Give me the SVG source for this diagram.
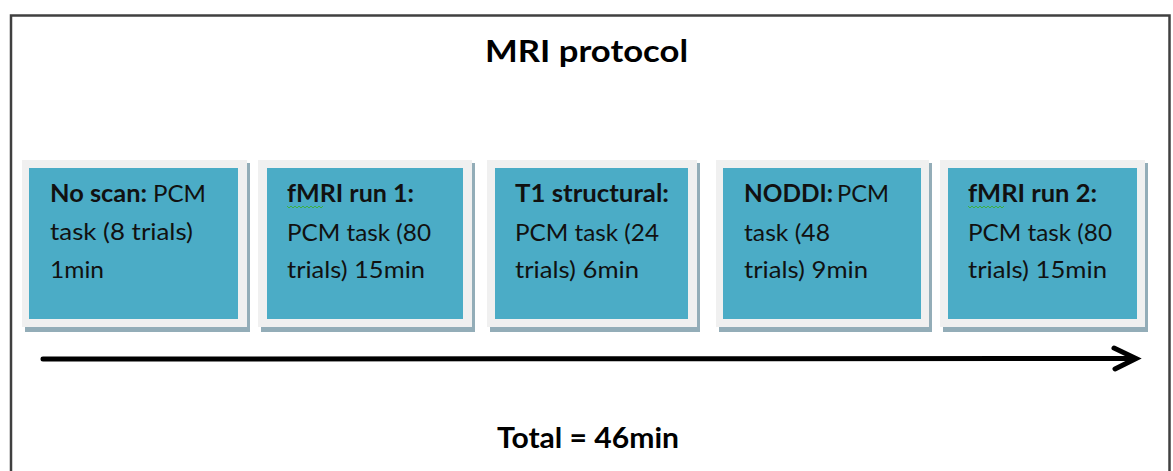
<svg xmlns="http://www.w3.org/2000/svg" width="1173" height="471" viewBox="0 0 1173 471">
<defs>
<style>
.frame{fill:#f0f0f0}
.shadow{fill:#93adb8}
.inner{fill:#4bacc6}
.t{font-family:Lato,"Open Sans","Liberation Sans",sans-serif;font-size:24px;fill:#111}
.b{font-weight:bold}
.h{font-family:Lato,"Open Sans","Liberation Sans",sans-serif;font-weight:bold;fill:#000}
.sq{fill:none;stroke:#3cb043;stroke-width:1}
</style>
</defs>
<rect width="1173" height="471" fill="#ffffff"/>
<rect x="11" y="15.5" width="1158.5" height="470" fill="none" stroke="#404040" stroke-width="2.5"/>
<text class="h" x="485" y="62" font-size="30" textLength="203" lengthAdjust="spacingAndGlyphs">MRI protocol</text>

<g id="node-noscan">
<rect class="shadow" x="25" y="163" width="225" height="169"/>
<rect class="frame" x="22" y="160" width="225" height="167"/>
<rect class="inner" x="29" y="168" width="209" height="151"/>
<text class="t b" x="50" y="202" textLength="97" lengthAdjust="spacingAndGlyphs">No scan:</text>
<text class="t" x="153" y="202" textLength="53" lengthAdjust="spacingAndGlyphs">PCM</text>
<text class="t" x="50" y="240" textLength="143" lengthAdjust="spacingAndGlyphs">task (8 trials)</text>
<text class="t" x="50" y="278" textLength="54" lengthAdjust="spacingAndGlyphs">1min</text>
</g>

<g id="node-fmri1">
<rect class="shadow" x="261" y="163" width="214" height="169"/>
<rect class="frame" x="258" y="160" width="214" height="167"/>
<rect class="inner" x="267" y="168" width="196" height="151"/>
<text class="t b" x="287" y="202" textLength="127" lengthAdjust="spacingAndGlyphs">fMRI run 1:</text>
<path class="sq" d="M287 206 l2 2 l2 -2 l2 2 l2 -2 l2 2 l2 -2 l2 2 l2 -2 l2 2 l2 -2 l2 2 l2 -2 l2 2 l2 -2 l2 2 l2 -2 l2 2 l2 -2"/>
<text class="t" x="287" y="241" textLength="144" lengthAdjust="spacingAndGlyphs">PCM task (80</text>
<text class="t" x="287" y="278" textLength="138" lengthAdjust="spacingAndGlyphs">trials) 15min</text>
</g>

<g id="node-t1">
<rect class="shadow" x="490" y="163" width="210" height="169"/>
<rect class="frame" x="487" y="160" width="210" height="167"/>
<rect class="inner" x="495" y="168" width="193" height="151"/>
<text class="t b" x="515" y="202" textLength="154" lengthAdjust="spacingAndGlyphs">T1 structural:</text>
<text class="t" x="515" y="241" textLength="144" lengthAdjust="spacingAndGlyphs">PCM task (24</text>
<text class="t" x="515" y="278" textLength="124" lengthAdjust="spacingAndGlyphs">trials) 6min</text>
</g>

<g id="node-noddi">
<rect class="shadow" x="719" y="163" width="213" height="169"/>
<rect class="frame" x="716" y="160" width="213" height="167"/>
<rect class="inner" x="723" y="168" width="198" height="151"/>
<text class="t b" x="744" y="202" textLength="89" lengthAdjust="spacingAndGlyphs">NODDI:</text>
<text class="t" x="837" y="202" textLength="52" lengthAdjust="spacingAndGlyphs">PCM</text>
<text class="t" x="744" y="241" textLength="86" lengthAdjust="spacingAndGlyphs">task (48</text>
<text class="t" x="744" y="278" textLength="124" lengthAdjust="spacingAndGlyphs">trials) 9min</text>
</g>

<g id="node-fmri2">
<rect class="shadow" x="943" y="163" width="205" height="169"/>
<rect class="frame" x="940" y="160" width="205" height="167"/>
<rect class="inner" x="948" y="168" width="189" height="151"/>
<text class="t b" x="968" y="202" textLength="129" lengthAdjust="spacingAndGlyphs">fMRI run 2:</text>
<path class="sq" d="M968 206 l2 2 l2 -2 l2 2 l2 -2 l2 2 l2 -2 l2 2 l2 -2 l2 2 l2 -2 l2 2 l2 -2 l2 2 l2 -2 l2 2 l2 -2 l2 2 l2 -2"/>
<text class="t" x="968" y="241" textLength="144" lengthAdjust="spacingAndGlyphs">PCM task (80</text>
<text class="t" x="968" y="278" textLength="139" lengthAdjust="spacingAndGlyphs">trials) 15min</text>
</g>

<g id="connectors">
<line x1="43" y1="359" x2="1133" y2="358.5" stroke="#000" stroke-width="5" stroke-linecap="round"/>
<polyline points="1114,348 1136,358.5 1115,369" fill="none" stroke="#000" stroke-width="5" stroke-linecap="round" stroke-linejoin="miter"/>
</g>

<text class="h" x="497" y="448" font-size="28" textLength="182" lengthAdjust="spacingAndGlyphs">Total = 46min</text>
</svg>
